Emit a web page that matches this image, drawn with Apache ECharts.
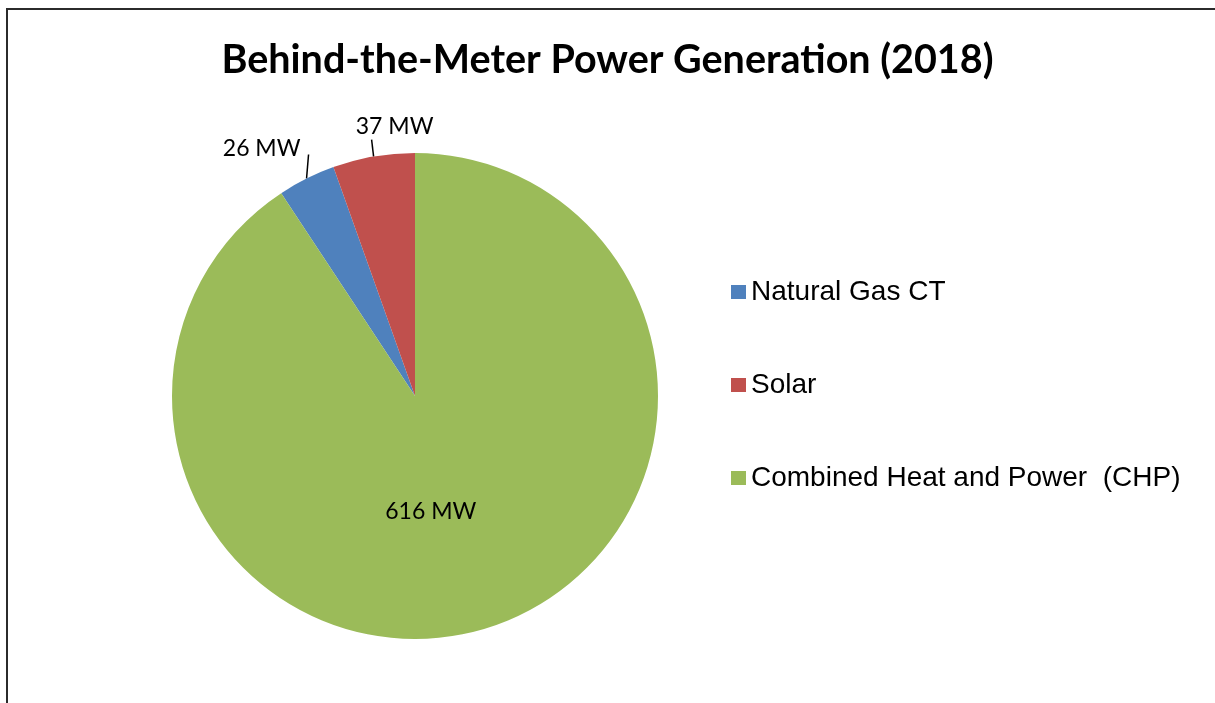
<!DOCTYPE html>
<html>
<head>
<meta charset="utf-8">
<script src="https://cdn.jsdelivr.net/npm/echarts@6/dist/echarts.min.js"></script>
<style>
  html, body { margin: 0; padding: 0; background: #fff; }
  #chart { width: 1215px; height: 703px; }
  .frame {
    position: absolute;
    left: 6px;
    top: 8px;
    width: 1215px;
    height: 703px;
    border-left: 2px solid #2b2b2b;
    border-top: 2px solid #2b2b2b;
    pointer-events: none;
  }
</style>
</head>
<body>
<div id="chart"></div>
<div class="frame"></div>
<script>
const categories = ["Natural Gas CT", "Solar", "Combined Heat and Power  (CHP)"];
const values = [26, 37, 616];
const unit = "MW";

const palette = ["#4f81bd", "#c0504d", "#9bbb59"];
const labelFont = "Lato, 'Open Sans', sans-serif";

// Excel draws the last slice ending at 12 o'clock, so rotate the start
const total = values.reduce((a, b) => a + b, 0);
const startAngle = 90 + (values[0] + values[1]) / total * 360;

let chart = echarts.init(document.getElementById("chart"));
let data = [];
for (let i = 0; i < categories.length; i++) {
  let item = { name: categories[i], value: values[i] };
  if (i === categories.length - 1) {
    item.label = { position: "inside" };
  }
  data.push(item);
}

let option = {
  animation: false,
  color: palette,
  title: {
    text: "Behind-the-Meter Power Generation (2018)",
    left: "center",
    top: 35,
    textStyle: {
      fontFamily: labelFont,
      fontWeight: "bold",
      fontSize: 39.5,
      color: "#000"
    }
  },
  legend: {
    orient: "vertical",
    left: 726,
    top: 273,
    itemWidth: 15,
    itemHeight: 14,
    itemGap: 65,
    icon: "rect",
    data: categories,
    textStyle: {
      fontFamily: "'Liberation Sans', Arial, sans-serif",
      fontSize: 28,
      color: "#000",
      padding: [0, 0, 0, 0]
    }
  },
  series: [
    {
      type: "pie",
      center: [415, 396],
      radius: 243,
      startAngle: startAngle,
      clockwise: true,
      avoidLabelOverlap: false,
      itemStyle: { borderWidth: 0 },
      label: {
        show: true,
        position: "outside",
        formatter: "{c} " + unit,
        fontFamily: labelFont,
        fontSize: 23,
        color: "#000"
      },
      labelLine: {
        show: true,
        length: 18,
        length2: 0,
        smooth: false,
        lineStyle: { color: "#000", width: 1.5 }
      },
      labelLayout: function (params) {
        let pts = params.labelLinePoints;
        if (params.dataIndex === categories.length - 1 || !pts) {
          return { dx: -20, dy: -4 };
        }
        let s = pts[0];
        if (params.dataIndex === 1) {
          let e = [s[0] - 2, s[1] - 17];
          return {
            x: e[0] + 23, y: e[1] - 1, align: "center", verticalAlign: "bottom",
            labelLinePoints: [s, e]
          };
        }
        let e = [s[0] + 2, s[1] - 24];
        return {
          x: e[0] - 8, y: e[1] + 6, align: "right", verticalAlign: "bottom",
          labelLinePoints: [s, e]
        };
      },
      emphasis: { disabled: true },
      data
    }
  ]
};
chart.setOption(option);
</script>
</body>
</html>
